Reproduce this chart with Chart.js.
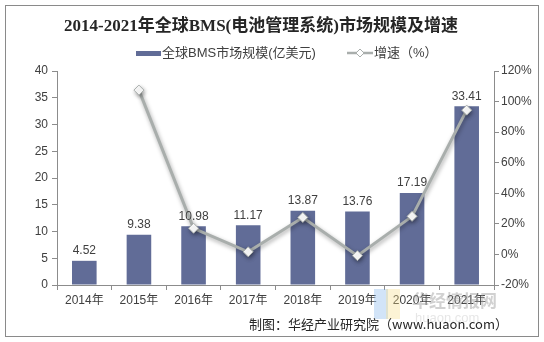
<!DOCTYPE html>
<html>
<head>
<meta charset="utf-8">
<script src="https://cdn.jsdelivr.net/npm/chart.js@4/dist/chart.umd.min.js"></script>
<style>
  html, body { margin: 0; padding: 0; background: #fff; }
  #wrap { width: 544px; height: 342px; position: relative; }
</style>
</head>
<body>
<div id="wrap"><canvas id="bms"></canvas></div>
<script>
// 数据
const years = ['2014年', '2015年', '2016年', '2017年', '2018年', '2019年', '2020年', '2021年'];
const marketSize = [4.52, 9.38, 10.98, 11.17, 13.87, 13.76, 17.19, 33.41];
const growthRate = [null, 107.5, 17.1, 1.7, 24.2, -0.8, 24.9, 94.4];
const sizeTicks = [0, 5, 10, 15, 20, 25, 30, 35, 40];
const rateTicks = [-20, 0, 20, 40, 60, 80, 100, 120];

const BAR_COLOR = '#616c97';
const LINE_COLOR = '#a9aeac';
const TEXT_COLOR = '#404040';
const AXIS_COLOR = '#8c8c8c';
const FONT = '"Liberation Sans", Arial, "Noto Sans CJK SC", sans-serif';

// 标题、图例、边框、数据标签
const decorPlugin = {
    id: 'decor',
    beforeDatasetDraw(chart, args) {
        if (args.index === 1) {
            const ctx = chart.ctx;
            ctx.save();
            ctx.shadowColor = 'rgba(0,0,0,0.35)';
            ctx.shadowBlur = 4;
            ctx.shadowOffsetX = 1;
            ctx.shadowOffsetY = 2;
        }
    },
    afterDatasetDraw(chart, args) {
        if (args.index === 1) chart.ctx.restore();
    },
    afterDraw(chart) {
        const ctx = chart.ctx;
        ctx.save();

        // 外框
        ctx.strokeStyle = '#8a8a8a';
        ctx.lineWidth = 1;
        ctx.strokeRect(5.5, 5.5, 533, 331);

        // 标题
        ctx.fillStyle = '#262626';
        ctx.font = 'bold 17px "Liberation Serif", "Noto Sans CJK SC", serif';
        ctx.textAlign = 'center';
        ctx.textBaseline = 'middle';
        ctx.fillText('2014-2021年全球BMS(电池管理系统)市场规模及增速', 261, 27);

        // 图例
        ctx.font = '13px ' + FONT;
        ctx.textAlign = 'left';
        ctx.fillStyle = BAR_COLOR;
        ctx.fillRect(136, 51, 25, 5);
        ctx.fillStyle = TEXT_COLOR;
        ctx.fillText('全球BMS市场规模(亿美元)', 162, 53);
        ctx.strokeStyle = LINE_COLOR;
        ctx.lineWidth = 2.5;
        ctx.beginPath();
        ctx.moveTo(347, 53);
        ctx.lineTo(373, 53);
        ctx.stroke();
        drawDiamond(ctx, 360, 53, 4);
        ctx.fillStyle = TEXT_COLOR;
        ctx.fillText('增速（%）', 374, 53);

        // 柱顶数值
        const meta = chart.getDatasetMeta(0);
        ctx.font = '12px ' + FONT;
        ctx.textAlign = 'center';
        ctx.textBaseline = 'bottom';
        ctx.fillStyle = TEXT_COLOR;
        meta.data.forEach((bar, i) => {
            ctx.fillText(marketSize[i].toFixed(2), bar.x, bar.y - 4);
        });

        // 水印
        ctx.globalAlpha = 0.35;
        ctx.fillStyle = '#7fb2ea';
        ctx.fillRect(374, 289, 14, 30);
        ctx.fillStyle = '#f5dc86';
        ctx.fillRect(386, 289, 14, 30);
        ctx.globalAlpha = 0.45;
        ctx.fillStyle = '#9a9a9a';
        ctx.font = 'bold 17px "Noto Sans CJK SC", sans-serif';
        ctx.textAlign = 'left';
        ctx.textBaseline = 'middle';
        ctx.fillText('华经情报网', 412, 301);
        ctx.globalAlpha = 0.25;
        ctx.font = '13px ' + FONT;
        ctx.fillText('huaon.com', 415, 318);
        ctx.globalAlpha = 1;

        // 来源
        ctx.fillStyle = '#262626';
        ctx.font = '13px "Noto Sans CJK SC", ' + FONT;
        ctx.textAlign = 'right';
        ctx.fillText('制图：华经产业研究院（www.huaon.com）', 508, 324);

        ctx.restore();
    }
};

function drawDiamond(ctx, x, y, r) {
    ctx.save();
    ctx.beginPath();
    ctx.moveTo(x, y - r);
    ctx.lineTo(x + r, y);
    ctx.lineTo(x, y + r);
    ctx.lineTo(x - r, y);
    ctx.closePath();
    ctx.fillStyle = '#ffffff';
    ctx.fill();
    ctx.strokeStyle = LINE_COLOR;
    ctx.lineWidth = 1;
    ctx.stroke();
    ctx.restore();
}

const config = {
    type: 'bar',
    data: {
        labels: years,
        datasets: [
            {
                label: '全球BMS市场规模(亿美元)',
                data: marketSize,
                backgroundColor: BAR_COLOR,
                categoryPercentage: 1,
                barPercentage: 0.45,
                yAxisID: 'y',
                order: 2
            },
            {
                type: 'line',
                label: '增速（%）',
                data: growthRate,
                borderColor: LINE_COLOR,
                borderWidth: 3,
                pointStyle: 'rectRot',
                pointRadius: 5,
                pointBackgroundColor: '#ffffff',
                pointBorderColor: LINE_COLOR,
                pointBorderWidth: 1,
                spanGaps: false,
                tension: 0,
                yAxisID: 'y1',
                order: 1
            }
        ]
    },
    options: {
        responsive: false,
        animation: false,
        layout: {
            padding: { left: 10, right: 10, top: 71, bottom: 35 }
        },
        plugins: {
            legend: { display: false },
            title: { display: false },
            tooltip: { enabled: false }
        },
        scales: {
            x: {
                offset: true,
                grid: {
                    display: true,
                    drawOnChartArea: false,
                    offset: true,
                    color: AXIS_COLOR,
                    tickLength: 5
                },
                border: { color: AXIS_COLOR },
                ticks: {
                    color: TEXT_COLOR,
                    font: { size: 12, family: FONT },
                    maxRotation: 0,
                    padding: 3
                },
                afterFit(scale) { scale.height = 22; }
            },
            y: {
                position: 'left',
                min: 0,
                max: 40,
                afterBuildTicks(scale) { scale.ticks = sizeTicks.map(v => ({ value: v })); },
                grid: {
                    drawOnChartArea: false,
                    color: AXIS_COLOR,
                    tickLength: 5
                },
                border: { color: AXIS_COLOR },
                ticks: {
                    color: TEXT_COLOR,
                    font: { size: 12, family: FONT },
                    padding: 4
                },
                afterFit(scale) { scale.width = 47; }
            },
            y1: {
                position: 'right',
                min: -20,
                max: 120,
                afterBuildTicks(scale) { scale.ticks = rateTicks.map(v => ({ value: v })); },
                grid: {
                    drawOnChartArea: false,
                    color: AXIS_COLOR,
                    tickLength: 5
                },
                border: { color: AXIS_COLOR },
                ticks: {
                    color: TEXT_COLOR,
                    font: { size: 12, family: FONT },
                    padding: 2,
                    callback: v => v + '%'
                },
                afterFit(scale) { scale.width = 40; }
            }
        }
    },
    plugins: [decorPlugin]
};

const canvas = document.getElementById('bms');
canvas.width = 544;
canvas.height = 342;
new Chart(canvas, config);
</script>
</body>
</html>
